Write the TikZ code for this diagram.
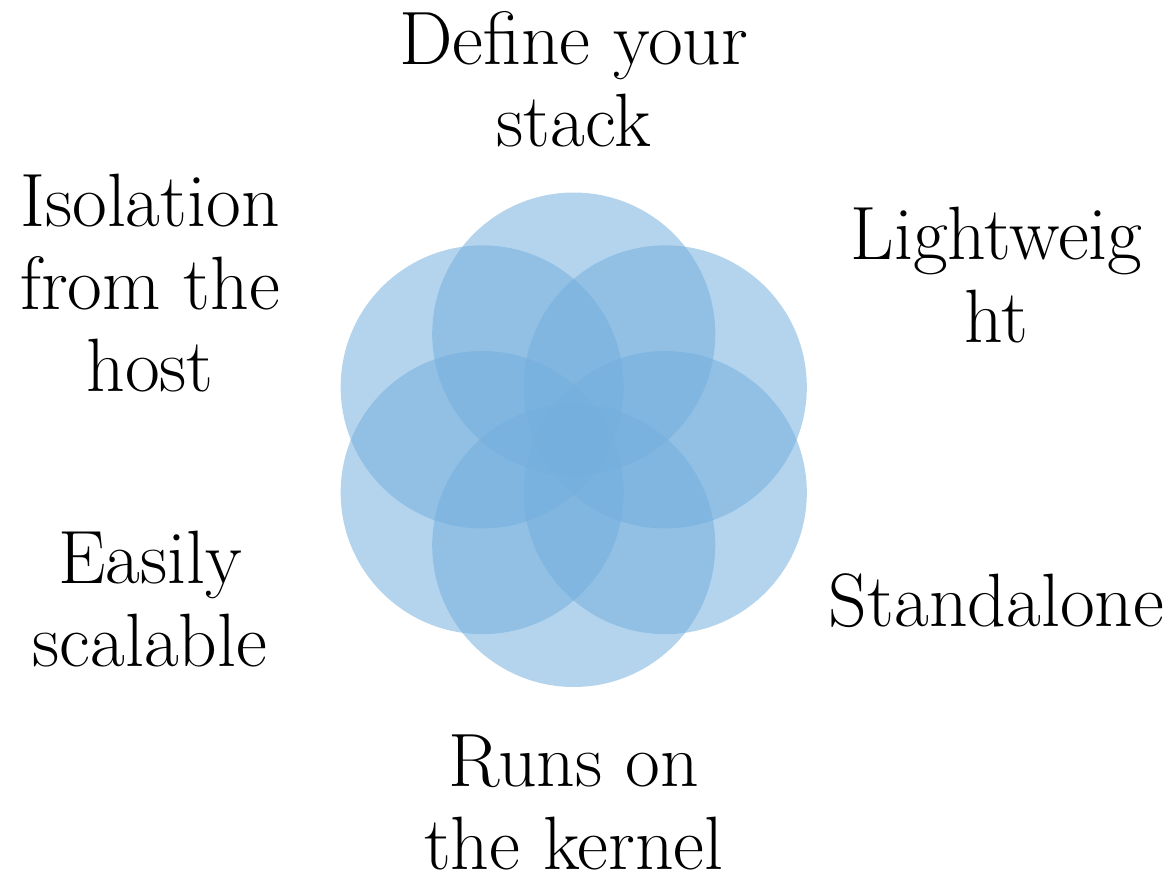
\documentclass[tikz,border=0pt]{standalone}
\usepackage{xcolor}
\usepackage{tikz}
\definecolor{petalblue}{RGB}{114,174,221}

\begin{document}
\begin{tikzpicture}[
    petal/.style = {fill = petalblue, fill opacity = 0.53},
    tag/.style = {align = center, font = \fontsize{22.8}{25}\selectfont}]
    \useasboundingbox (-6.08, -4.66) rectangle (6.35, 4.66);

    \fill[petal] (0, 1.12) circle (1.5);
    \fill[petal] (-0.97, 0.56) circle (1.5);
    \fill[petal] (0.97, 0.56) circle (1.5);
    \fill[petal] (-0.97, -0.56) circle (1.5);
    \fill[petal] (0.97, -0.56) circle (1.5);
    \fill[petal] (0, -1.12) circle (1.5);

    \node[tag] (stack) at (0, 3.82) {Define your\\stack};
    \node[tag] (light) at (4.48, 1.75) {Lightweig\\ht};
    \node[tag] (alone) at (4.48, -1.71) {Standalone};
    \node[tag] (kernel) at (0, -3.84) {Runs on\\the kernel};
    \node[tag] (scale) at (-4.49, -1.69) {Easily\\scalable};
    \node[tag] (host) at (-4.49, 1.66) {Isolation\\from the\\host};
\end{tikzpicture}
\end{document}
